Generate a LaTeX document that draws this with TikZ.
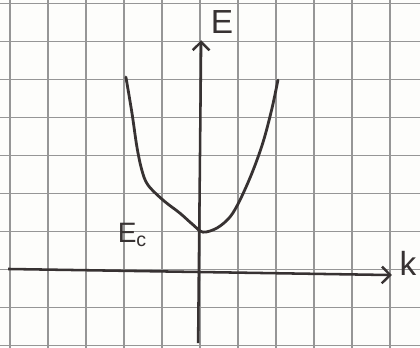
\documentclass[tikz,border=0pt]{standalone}
\usepackage{fontspec}
\setmainfont{Liberation Sans}
\usetikzlibrary{arrows.meta,positioning,calc}
\definecolor{Pencil}{RGB}{55,50,50}
\definecolor{GridGray}{RGB}{150,150,150}
\definecolor{Paper}{RGB}{253,253,251}
\tikzset{
  gridline/.style={draw=GridGray,line width=0.9pt},
  axis/.style={-{Straight Barb[length=2.2mm,width=4.4mm,line width=1.8pt]},draw=Pencil,line width=1.9pt},
  band/.style={draw=Pencil,line width=2.1pt,line cap=round},
  axislabel/.style={text=Pencil,font=\fontsize{25}{25}\selectfont,inner sep=0pt},
  levellabel/.style={text=Pencil,font=\fontsize{21}{21}\selectfont,inner sep=0pt}
}
\begin{document}
\begin{tikzpicture}[x=1cm,y=1cm]
\fill[Paper] (-5.263,-1.974) rectangle (5.789,7.158);
\useasboundingbox (-5.263,-1.974) rectangle (5.789,7.158);
\begin{scope}
\clip (-5.263,-1.974) rectangle (5.789,7.158);
\draw[gridline,yshift=0.06cm] (-6,-3) grid[step=1] (7,8);
\end{scope}
\coordinate (kL) at (-5.05,0.08);
\coordinate (kR) at (5.05,-0.08);
\coordinate (eB) at (-0.05,-1.87);
\coordinate (eT) at (0.03,6.1);

\draw[axis] (kL) -- (kR);
\draw[axis] (eB) -- (eT);

% conduction band
\draw[band] plot[smooth,tension=0.55] coordinates {(-1.95,5.13) (-1.79,4.18) (-1.66,3.29) (-1.53,2.68) (-1.37,2.29) (-0.97,1.89) (-0.53,1.55) (-0.18,1.24) (0.08,1.05) (0.45,1.16) (0.79,1.45) (1.05,1.89) (1.37,2.61) (1.66,3.42) (1.89,4.29) (2.05,5.05)};

\node[axislabel] (elabel) at (0.58,6.58) {E};
\node[axislabel] (klabel) at (5.47,0.22) {k};
\node[levellabel] (eclabel) at (-1.78,0.98) {E$_{\mathrm{c}}$};
\end{tikzpicture}
\end{document}
